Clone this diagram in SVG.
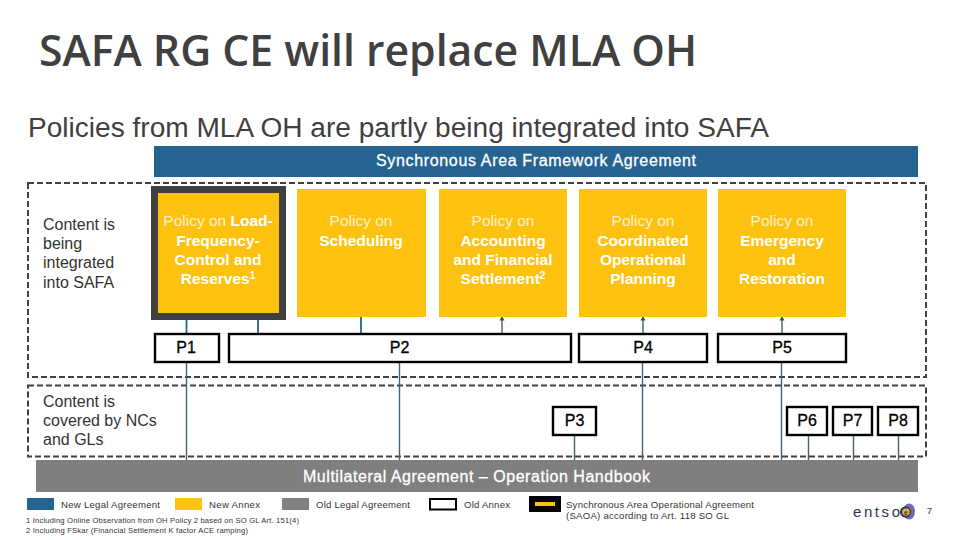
<svg xmlns="http://www.w3.org/2000/svg" width="960" height="540" viewBox="0 0 960 540">
<style>
text{font-family:"Liberation Sans",Arial,sans-serif}
.y{fill:#fdc210}
.b{fill:#fff;stroke:#000;stroke-width:2.4}
.d{fill:none;stroke:#404040;stroke-width:2;stroke-dasharray:6 3}
.c{stroke:#3f6478;stroke-width:1.4;fill:none}
.u{stroke:#256490;stroke-width:1.8;fill:none}
.pt{font-size:15.5px;fill:#fff;text-anchor:middle}
.w{font-weight:bold}
.p{font-size:16px;fill:#000;text-anchor:middle;stroke:#000;stroke-width:.3}
.side{font-size:16px;fill:#333}
.bar{font-size:16px;fill:#fff;stroke:#fff;stroke-width:.3}
.leg{font-size:9.6px;fill:#333}
.note{font-size:7.6px;fill:#333}
</style>
<rect width="960" height="540" fill="#fff"/>
<text id="title" x="39" y="66" style="font-family:'Open Sans','Noto Sans',sans-serif;font-size:44px;font-weight:600" fill="#404040" textLength="658" lengthAdjust="spacingAndGlyphs">SAFA RG CE will replace MLA OH</text>
<text id="subtitle" x="28" y="137" style="font-size:27px" fill="#404040" textLength="741" lengthAdjust="spacingAndGlyphs">Policies from MLA OH are partly being integrated into SAFA</text>
<g id="bar-safa"><rect x="154" y="146" width="764" height="31" fill="#256490"/><text class="bar" x="376" y="166" textLength="320">Synchronous Area Framework Agreement</text></g>
<rect id="zone-safa" class="d" x="28" y="183" width="898" height="194"/>
<rect id="zone-nc" class="d" x="28" y="385.500" width="898" height="71"/>
<g id="label-safa" class="side"><text x="43" y="230">Content is</text><text x="43" y="249">being</text><text x="43" y="268">integrated</text><text x="43" y="287.500">into SAFA</text></g>
<g id="label-nc" class="side"><text x="43" y="406.500">Content is</text><text x="43" y="425.500">covered by NCs</text><text x="43" y="444.500">and GLs</text></g>
<g id="connectors">
<path class="u" d="M186.500 317V334M258 317V334M361 317V334"/>
<path class="c" d="M502 319V334M643 319V334M782 319V334"/>
<path d="M499.500 320.500L502 316L504.500 320.500ZM640.500 320.500L643 316L645.500 320.500ZM779.500 320.500L782 316L784.500 320.500Z" fill="#2b4f66"/>
<path class="c" d="M186.500 362V460M399.500 362V460M642.500 362V460M781.500 362V460M574.500 435V460M808.500 435V460M853.500 435V460M898.500 435V460"/>
</g>
<g id="policy-1"><rect x="154.500" y="189.500" width="128" height="127" class="y" stroke="#404040" stroke-width="7"/>
<text class="pt" x="218" y="226"><tspan opacity=".75">Policy on </tspan><tspan class="w">Load-</tspan></text><text class="pt w" x="218" y="246">Frequency-</text><text class="pt w" x="218" y="265">Control and</text><text class="pt w" x="218" y="284">Reserves<tspan font-size="10" dy="-5">1</tspan></text></g>
<g id="policy-2"><rect x="297" y="189" width="129" height="128" class="y"/>
<text class="pt" x="361" y="226" opacity=".75">Policy on</text><text class="pt w" x="361" y="246">Scheduling</text></g>
<g id="policy-3"><rect x="439" y="189" width="128" height="128" class="y"/>
<text class="pt" x="503" y="226" opacity=".75">Policy on</text><text class="pt w" x="503" y="246">Accounting</text><text class="pt w" x="503" y="265">and Financial</text><text class="pt w" x="503" y="284">Settlement<tspan font-size="10" dy="-5">2</tspan></text></g>
<g id="policy-4"><rect x="579" y="189" width="128" height="128" class="y"/>
<text class="pt" x="643" y="226" opacity=".75">Policy on</text><text class="pt w" x="643" y="246">Coordinated</text><text class="pt w" x="643" y="265">Operational</text><text class="pt w" x="643" y="284">Planning</text></g>
<g id="policy-5"><rect x="718" y="189" width="128" height="128" class="y"/>
<text class="pt" x="782" y="226" opacity=".75">Policy on</text><text class="pt w" x="782" y="246">Emergency</text><text class="pt w" x="782" y="265">and</text><text class="pt w" x="782" y="284">Restoration</text></g>
<g id="P1"><rect class="b" x="155" y="334" width="64" height="28"/><text class="p" x="186" y="353">P1</text></g>
<g id="P2"><rect class="b" x="229" y="334" width="342" height="28"/><text class="p" x="399.500" y="353">P2</text></g>
<g id="P4"><rect class="b" x="579" y="334" width="128" height="28"/><text class="p" x="643" y="353">P4</text></g>
<g id="P5"><rect class="b" x="718" y="334" width="128" height="28"/><text class="p" x="782" y="353">P5</text></g>
<g id="P3"><rect class="b" x="553" y="407" width="43" height="28"/><text class="p" x="574.500" y="426">P3</text></g>
<g id="P6"><rect class="b" x="787" y="407" width="40" height="28"/><text class="p" x="807" y="426">P6</text></g>
<g id="P7"><rect class="b" x="833" y="407" width="39" height="28"/><text class="p" x="852.500" y="426">P7</text></g>
<g id="P8"><rect class="b" x="878" y="407" width="40" height="28"/><text class="p" x="898" y="426">P8</text></g>
<g id="bar-mla"><rect x="36" y="460" width="882" height="32" fill="#7f7f7f"/><text class="bar" x="303" y="481.500" textLength="347">Multilateral Agreement – Operation Handbook</text></g>
<g id="legend">
<rect x="27" y="498" width="27" height="12" fill="#256490"/><text class="leg" x="61" y="508" textLength="99">New Legal Agreement</text>
<rect x="175" y="498" width="27" height="12" fill="#fdc210"/><text class="leg" x="209" y="508" textLength="51">New Annex</text>
<rect x="282" y="498" width="27" height="12" fill="#7f7f7f"/><text class="leg" x="316" y="508" textLength="94">Old Legal Agreement</text>
<rect x="430" y="499" width="26" height="10.500" fill="#fff" stroke="#000" stroke-width="2"/><text class="leg" x="464" y="508" textLength="46">Old Annex</text>
<rect x="529" y="496" width="32" height="16" fill="#000"/><rect x="535" y="502" width="20" height="4" fill="#fdc210"/>
<text class="leg" x="566" y="508" textLength="188">Synchronous Area Operational Agreement</text><text class="leg" x="566" y="519" textLength="163">(SAOA) according to Art. 118 SO GL</text>
<text class="note" x="26" y="523" textLength="273">1 Including Online Observation from OH Policy 2 based on SO GL Art. 151(4)</text>
<text class="note" x="26" y="533" textLength="222">2 Including FSkar (Financial Settlement K factor ACE ramping)</text>
</g>
<g id="logo">
<ellipse cx="909" cy="511.500" rx="6" ry="8" fill="#6f6fb0"/><circle cx="905.500" cy="512" r="5.500" fill="#2a2f55"/><circle cx="906" cy="512" r="3.800" fill="#e3b23a"/>
<text x="853" y="517" style="font-size:15px" fill="#2a3350" textLength="47">entso</text>
<text x="906" y="514.500" style="font-size:7px;font-weight:bold;text-anchor:middle" fill="#2a2f55">e</text>
</g>
<text id="page" x="927" y="514" style="font-size:9px;font-weight:bold" fill="#666">7</text>
</svg>
